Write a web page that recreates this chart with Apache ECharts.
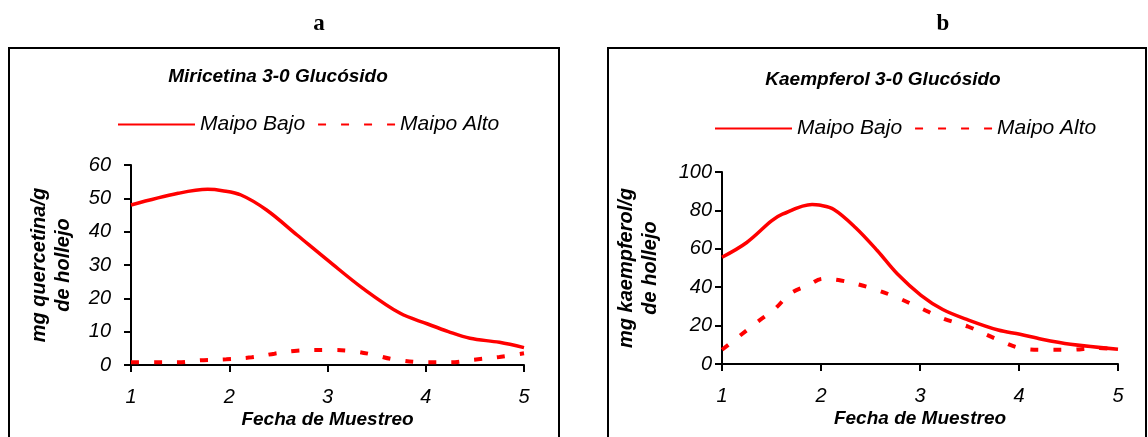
<!DOCTYPE html>
<html>
<head>
<meta charset="utf-8">
<script src="https://cdn.jsdelivr.net/npm/echarts@6/dist/echarts.min.js"></script>
<style>
  html, body { margin: 0; padding: 0; background: #ffffff; }
  #chart { width: 1148px; height: 437px; }
</style>
</head>
<body>
<div id="chart"></div>
<script>
// Sampling dates (x) and contents (y) for each location
const panelLetters = ['a', 'b'];
const panelTitles = ['Miricetina 3-0 Glucósido', 'Kaempferol 3-0 Glucósido'];
const seriesNames = ['Maipo Bajo', 'Maipo Alto'];
const yAxisNames = ['mg quercetina/g\nde hollejo', 'mg kaempferol/g\nde hollejo'];
const xAxisName = 'Fecha de Muestreo';
const xTicks = [1, 2, 3, 4, 5];

// Miricetina 3-0 Glucósido
const mirBajoX = [1, 1.48, 1.78, 1.93, 2.12, 2.38, 2.69, 3.02, 3.36, 3.74, 4.02, 4.23, 4.45, 4.75, 5];
const mirBajoY = [48, 51.5, 52.7, 52.3, 51, 46.5, 39, 31, 23, 15.5, 12.3, 10, 8, 6.8, 5.2];
const mirAltoX = [1, 1.25, 1.48, 1.7, 1.97, 2.23, 2.46, 2.69, 3.02, 3.25, 3.48, 3.67, 4, 4.25, 4.49, 4.75, 5];
const mirAltoY = [0.8, 0.8, 0.8, 1.4, 1.7, 2.3, 3.4, 4.3, 4.5, 4.2, 3, 1.7, 0.8, 0.8, 1.6, 2.4, 3.5];

// Kaempferol 3-0 Glucósido
const kaeBajoX = [1, 1.25, 1.5, 1.61, 1.91, 1.98, 2.13, 2.35, 2.57, 2.77, 3.01, 3.23, 3.49, 3.79, 4.01, 4.23, 4.52, 5];
const kaeBajoY = [55.6, 63.3, 74.5, 78, 83.1, 82.8, 80.5, 71, 59, 47, 35.8, 28.4, 22.9, 17.7, 15.5, 12.9, 10.3, 7.7];
const kaeAltoX = [1, 1.17, 1.36, 1.54, 1.69, 1.87, 2.02, 2.2, 2.49, 2.75, 3.01, 3.23, 3.49, 3.79, 4.01, 4.26, 4.52, 4.78, 5];
const kaeAltoY = [7.4, 14.3, 22, 29, 36.7, 41, 44.4, 43.5, 39.8, 35, 29, 23.8, 19.4, 12.6, 8.3, 7.4, 7.4, 8.3, 7.7];

const yMax = [60, 100];
const yStep = [10, 20];

const RED = '#ff0000';
const SANS = '"Liberation Sans", Arial, sans-serif';

function pairs(xs, ys) { return xs.map((x, i) => [x, ys[i]]); }

const grids = [
  { left: 131, top: 165, width: 393, height: 200 },
  { left: 722, top: 172, width: 396, height: 192 }
];

function xAxisFor(i) {
  return {
    type: 'value', gridIndex: i, min: 1, max: 5, interval: 1,
    name: xAxisName, nameLocation: 'middle', nameGap: 45,
    nameTextStyle: { fontFamily: SANS, fontSize: 19, fontWeight: 'bold', fontStyle: 'italic', color: '#000' },
    axisLine: { lineStyle: { color: '#000', width: 2 } },
    axisTick: { show: true, inside: false, length: 7, lineStyle: { color: '#000', width: 2 } },
    axisLabel: { margin: 22, fontFamily: SANS, fontSize: 20, fontStyle: 'italic', color: '#000',
      formatter: v => xTicks.includes(v) ? String(v) : '' },
    splitLine: { show: false }
  };
}

function yAxisFor(i) {
  return {
    type: 'value', gridIndex: i, min: 0, max: yMax[i], interval: yStep[i],
    name: yAxisNames[i], nameLocation: 'middle', nameRotate: 90, nameGap: i === 0 ? 56 : 60,
    nameTextStyle: { fontFamily: SANS, fontSize: 20, fontWeight: 'bold', fontStyle: 'italic', color: '#000', lineHeight: 24 },
    axisLine: { show: true, lineStyle: { color: '#000', width: 2 } },
    axisTick: { show: true, inside: false, length: 7, lineStyle: { color: '#000', width: 2 } },
    axisLabel: { margin: i === 0 ? 20 : 10, fontFamily: SANS, fontSize: 20, fontStyle: 'italic', color: '#000' },
    splitLine: { show: false }
  };
}

function lineSeries(name, idx, data, dashed) {
  return {
    type: 'line', name: name, xAxisIndex: idx, yAxisIndex: idx,
    data: data, smooth: 0.35, symbol: 'none', animation: false,
    lineStyle: dashed
      ? { color: RED, width: 4, type: [8, 15], cap: 'butt' }
      : { color: RED, width: 3.5, type: 'solid' },
    itemStyle: { color: RED }
  };
}

const legendText = { fontFamily: SANS, fontSize: 21, fontStyle: 'italic', color: '#000' };
// Legend shows only the line stroke of each series
const legendCommon = {
  itemWidth: 77, itemHeight: 14, itemGap: 12, data: seriesNames,
  textStyle: legendText, selectedMode: false,
  itemStyle: { opacity: 0, color: 'rgba(0,0,0,0)', borderWidth: 0 }
};

const option = {
  backgroundColor: '#ffffff',
  animation: false,
  title: [
    { text: panelLetters[0], left: 314, top: 8, textAlign: 'center',
      textStyle: { fontFamily: '"Liberation Serif", "Times New Roman", serif', fontSize: 23, fontWeight: 'bold', color: '#000' } },
    { text: panelLetters[1], left: 938, top: 8, textAlign: 'center',
      textStyle: { fontFamily: '"Liberation Serif", "Times New Roman", serif', fontSize: 23, fontWeight: 'bold', color: '#000' } },
    { text: panelTitles[0], left: 273, top: 62, textAlign: 'center',
      textStyle: { fontFamily: SANS, fontSize: 19, fontWeight: 'bold', fontStyle: 'italic', color: '#000' } },
    { text: panelTitles[1], left: 878, top: 65, textAlign: 'center',
      textStyle: { fontFamily: SANS, fontSize: 19, fontWeight: 'bold', fontStyle: 'italic', color: '#000' } }
  ],
  legend: [
    Object.assign({ left: 112, top: 109 }, legendCommon),
    Object.assign({ left: 709, top: 113 }, legendCommon)
  ],
  grid: grids,
  xAxis: [xAxisFor(0), xAxisFor(1)],
  yAxis: [yAxisFor(0), yAxisFor(1)],
  series: [
    lineSeries(seriesNames[0], 0, pairs(mirBajoX, mirBajoY), false),
    lineSeries(seriesNames[1], 0, pairs(mirAltoX, mirAltoY), true),
    lineSeries(seriesNames[0], 1, pairs(kaeBajoX, kaeBajoY), false),
    lineSeries(seriesNames[1], 1, pairs(kaeAltoX, kaeAltoY), true)
  ],
  graphic: [
    { type: 'rect', shape: { x: 9, y: 48, width: 550, height: 500 }, silent: true,
      style: { fill: 'none', stroke: '#000', lineWidth: 2 } },
    { type: 'rect', shape: { x: 608, y: 48, width: 538, height: 500 }, silent: true,
      style: { fill: 'none', stroke: '#000', lineWidth: 2 } }
  ]
};

const chart = echarts.init(document.getElementById('chart'), null, { renderer: 'canvas' });
chart.setOption(option);
</script>
</body>
</html>
